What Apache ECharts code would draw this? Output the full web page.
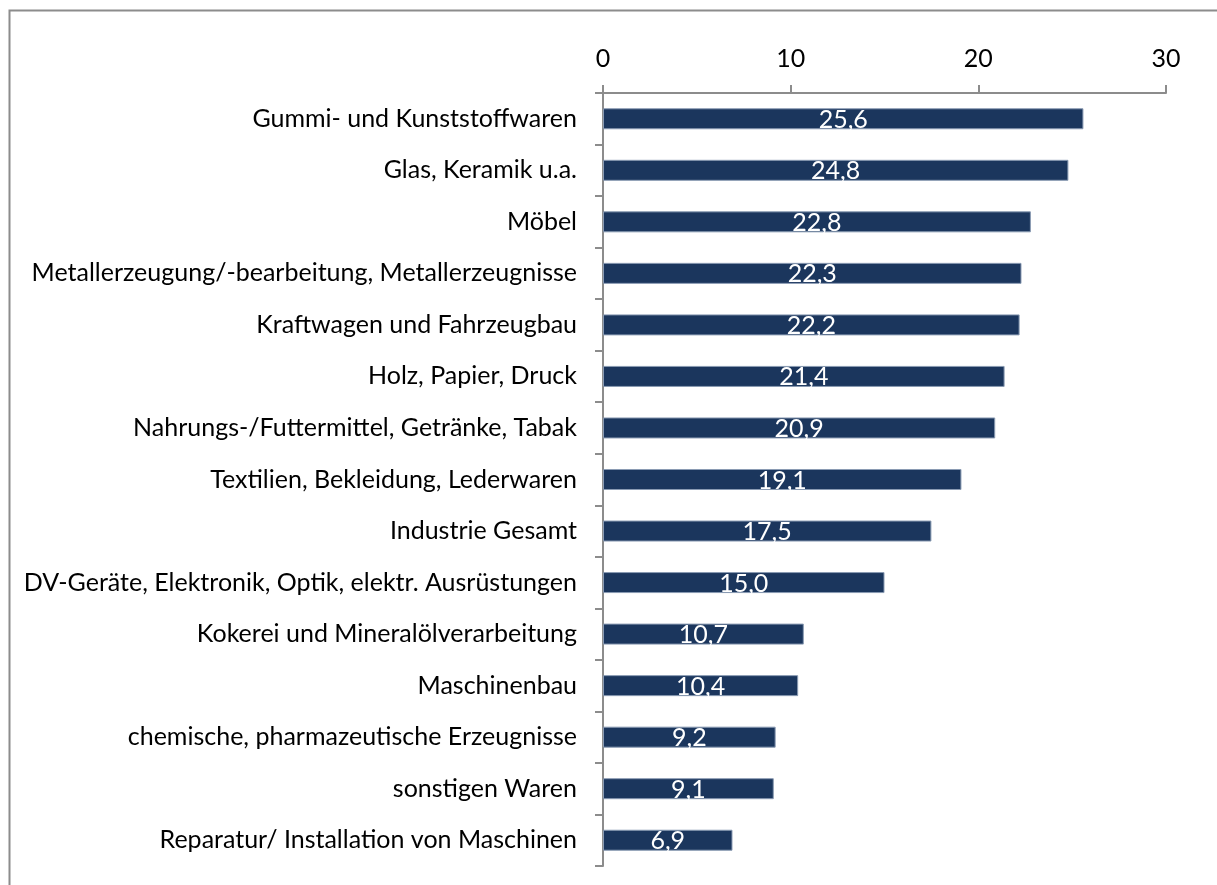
<!DOCTYPE html>
<html lang="de">
<head>
  <meta charset="UTF-8">
  <title>Branchen</title>
  <script src="https://cdn.jsdelivr.net/npm/echarts@6/dist/echarts.min.js"></script>
  <style>
    html, body { margin: 0; padding: 0; background: #fff; }
    #chart { width: 1217px; height: 885px; }
  </style>
</head>
<body>
  <div id="chart"></div>
  <script>
    // Kategorien (von oben nach unten)
    const categories = [
      'Gummi- und Kunststoffwaren',
      'Glas, Keramik u.a.',
      'Möbel',
      'Metallerzeugung/-bearbeitung, Metallerzeugnisse',
      'Kraftwagen und Fahrzeugbau',
      'Holz, Papier, Druck',
      'Nahrungs-/Futtermittel, Getränke, Tabak',
      'Textilien, Bekleidung, Lederwaren',
      'Industrie Gesamt',
      'DV-Geräte, Elektronik, Optik, elektr. Ausrüstungen',
      'Kokerei und Mineralölverarbeitung',
      'Maschinenbau',
      'chemische, pharmazeutische Erzeugnisse',
      'sonstigen Waren',
      'Reparatur/ Installation von Maschinen'
    ];
    const values = [25.6, 24.8, 22.8, 22.3, 22.2, 21.4, 20.9, 19.1, 17.5, 15.0, 10.7, 10.4, 9.2, 9.1, 6.9];
    const axisTicks = [0, 10, 20, 30];

    const font = 'Lato, "Open Sans", sans-serif';
    const chart = echarts.init(document.getElementById('chart'));

    chart.setOption({
      animation: false,
      textStyle: { fontFamily: font },
      // Rahmen um das Diagramm
      graphic: [{
        type: 'rect',
        shape: { x: 9.5, y: 10.5, width: 1400, height: 1000 },
        style: { fill: 'none', stroke: '#8c8c8c', lineWidth: 2 },
        silent: true
      }],
      grid: { left: 603, top: 93, right: 51, bottom: 19, containLabel: false },
      xAxis: {
        type: 'value',
        position: 'top',
        min: axisTicks[0],
        max: axisTicks[axisTicks.length - 1],
        interval: 10,
        axisLine: { show: true, lineStyle: { color: '#8c8c8c', width: 2 } },
        axisTick: { show: true, length: 8, lineStyle: { color: '#8c8c8c', width: 2 } },
        axisLabel: { color: '#000', fontSize: 25, margin: 22, fontFamily: font },
        splitLine: { show: false }
      },
      yAxis: {
        type: 'category',
        inverse: true,
        data: categories,
        axisLine: { show: true, lineStyle: { color: '#8c8c8c', width: 2 } },
        axisTick: { show: true, length: 8, alignWithLabel: false, lineStyle: { color: '#8c8c8c', width: 2 } },
        axisLabel: { color: '#000', fontSize: 25, margin: 26, fontFamily: font }
      },
      series: [{
        type: 'bar',
        data: values,
        barWidth: 21,
        itemStyle: { color: '#1b365d', borderColor: '#8a9bb3', borderWidth: 1 },
        label: {
          show: true,
          position: 'inside',
          offset: [0, 1],
          color: '#fff',
          fontSize: 25,
          fontFamily: font,
          formatter: p => p.value.toFixed(1).replace('.', ',')
        }
      }]
    });
  </script>
</body>
</html>
